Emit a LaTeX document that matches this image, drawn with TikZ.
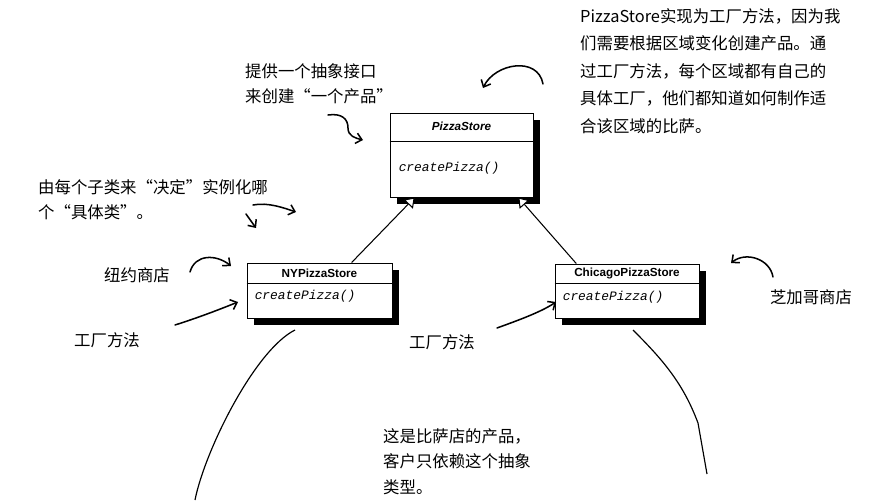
\documentclass[tikz,border=0pt]{standalone}
\usepackage{fontspec}
\setmainfont{Liberation Sans}
\setmonofont{Liberation Mono}
\newfontfamily\cjk{Noto Sans CJK SC}
\usetikzlibrary{arrows.meta, calc, positioning, shadows}

\begin{document}
\begin{tikzpicture}[x=0.03cm, y=-0.03cm, >={Straight Barb[length=5pt, width=9pt]},
  note/.style={font=\cjk\fontsize{14}{22}\selectfont, align=left, inner sep=0pt},
  hand/.style={line width=1.3pt, ->, line cap=round},
  umlbox/.style={draw, line width=0.8pt, fill=white, inner sep=0pt,
    general shadow={fill=black, shadow xshift=6pt, shadow yshift=-6pt}},
  clsname/.style={font=\fontsize{10}{12}\selectfont\bfseries},
  method/.style={font=\ttfamily\itshape\fontsize{11}{13}\selectfont, anchor=west, inner sep=0pt},
  inherit/.style={line width=0.9pt, -{Triangle[fill=white, length=8pt, width=11pt]}}]

  \useasboundingbox (0,0) rectangle (894,500);

  % the three classes
  \node[umlbox, minimum width=4.29cm, minimum height=2.52cm] (ps) at (461.5,155) {};
  \node[umlbox, minimum width=4.35cm, minimum height=1.65cm] (ny) at (319.5,290.5) {};
  \node[umlbox, minimum width=4.32cm, minimum height=1.62cm] (chi) at (627,291) {};

  \draw[line width=0.8pt] ($(ps.north west)+(0,29)$) -- ($(ps.north east)+(0,29)$);
  \draw[line width=0.8pt] ($(ny.north west)+(0,21)$) -- ($(ny.north east)+(0,21)$);
  \draw[line width=0.8pt] ($(chi.north west)+(0,20)$) -- ($(chi.north east)+(0,20)$);

  \node[clsname, font=\fontsize{10}{12}\selectfont\bfseries\itshape] (psname) at ($(ps.north)+(0,14)$) {PizzaStore};
  \node[clsname] (nyname) at ($(ny.north)+(0,10.5)$) {NYPizzaStore};
  \node[clsname] (chiname) at ($(chi.north)+(0,10)$) {ChicagoPizzaStore};

  \node[method] (psm) at ($(ps.north west)+(9,56)$) {createPizza()};
  \node[method] (nym) at ($(ny.north west)+(8,34)$) {createPizza()};
  \node[method] (chim) at ($(chi.north west)+(8,34)$) {createPizza()};

  \draw[inherit] ($(ny.north west)!0.72!(ny.north east)$) -- ($(ps.south west)!0.175!(ps.south east)$);
  \draw[inherit] ($(chi.north west)!0.15!(chi.north east)$) -- ($(ps.south west)!0.895!(ps.south east)$);

  % notes
  \node[note, font=\cjk\fontsize{14}{23.5}\selectfont, anchor=north west] (implnote) at (580,8)
    {PizzaStore实现为工厂方法，因为我\\们需要根据区域变化创建产品。通\\过工厂方法，每个区域都有自己的\\具体工厂，他们都知道如何制作适\\合该区域的比萨。};
  \node[note, anchor=north west] (absnote) at (245,63) {提供一个抽象接口\\来创建“一个产品”};
  \node[note, anchor=north west] (subnote) at (38,179) {由每个子类来“决定”实例化哪\\个“具体类”。};
  \node[note] (nynote) at (137,275) {纽约商店};
  \node[note] (fmlnote) at (107,340) {工厂方法};
  \node[note] (fmmnote) at (442,342) {工厂方法};
  \node[note] (chinote) at (811,297) {芝加哥商店};
  \node[note, anchor=north west] (prodnote) at (383,428) {这是比萨店的产品，\\客户只依赖这个抽象\\类型。};

  % hand drawn arrows
  \foreach \n/\x/\y in {impl-s/543/84, impl-e/483/88, abs-s/328/115, abs-m/348/128, abs-e/363/140,
      sub-s/253/205, sub-e/296/212, tick-s/246/214, tick-e/256/228, ny-s/190/272, ny-e/231/266,
      fml-s/175/325, fml-e/238/302, fmm-s/497/328, fmm-e/556/302, chi-s/773/277, chi-e/731/263,
      prl-s/295/330, prl-e/195/500, prr-s/633/330, prr-m/698/423, prr-e/707/474}
    \coordinate (\n) at (\x,\y);

  \draw[hand] (impl-s) .. controls +(-5,-28) and +(12,-25) .. (impl-e);
  \draw[hand] (abs-s) .. controls +(14,-2) and +(0,-9) .. (abs-m) .. controls +(0,8) and +(-8,-2) .. (abs-e);
  \draw[hand] (sub-s) .. controls +(15,-3) and +(-12,-4) .. (sub-e);
  \draw[hand] (tick-s) -- (tick-e);
  \draw[hand] (ny-s) .. controls +(5,-18) and +(-15,-12) .. (ny-e);
  \draw[hand] (fml-s) .. controls +(25,-8) and +(-20,8) .. (fml-e);
  \draw[hand] (fmm-s) .. controls +(22,-8) and +(-15,10) .. (fmm-e);
  \draw[hand] (chi-s) .. controls +(-3,-18) and +(15,-12) .. (chi-e);

  \draw[line width=1pt] (prl-s) .. controls +(-40,20) and +(10,-50) .. (prl-e);
  \draw[line width=1pt] (prr-s) .. controls +(30,30) and +(-15,-40) .. (prr-m) -- (prr-e);

\end{tikzpicture}
\end{document}
